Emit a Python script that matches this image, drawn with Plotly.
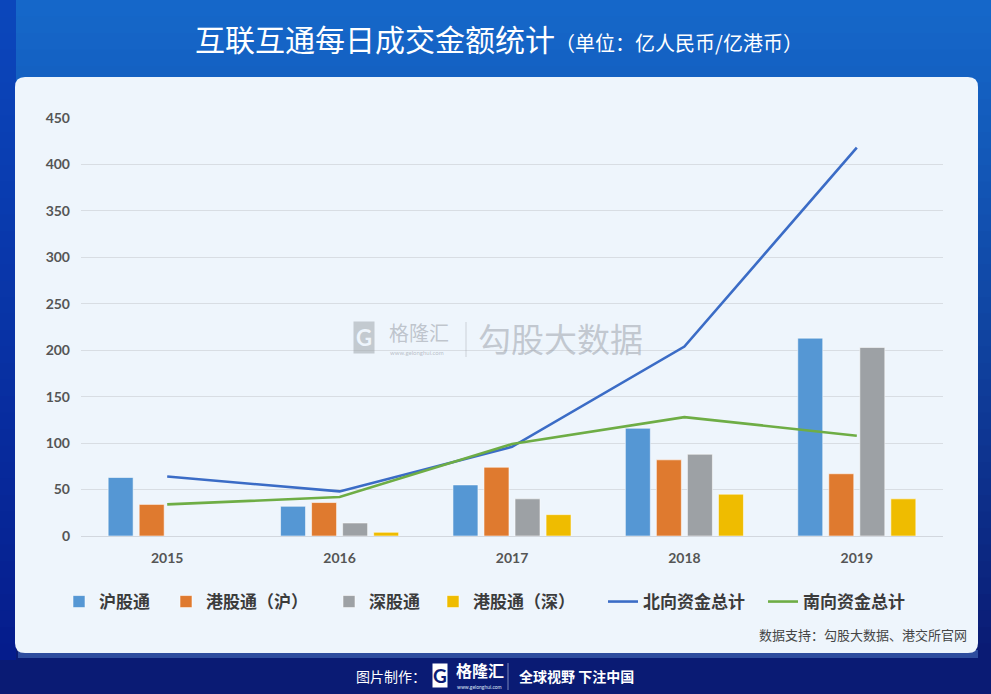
import plotly.graph_objects as go

# ---------------- data ----------------
years = ["2015", "2016", "2017", "2018", "2019"]
hu_gu_tong = [63, 32, 55, 116, 213]          # 沪股通
gang_gu_tong_hu = [34, 36, 74, 82, 67]       # 港股通（沪）
shen_gu_tong = [None, 14, 40, 88, 203]       # 深股通
gang_gu_tong_shen = [None, 4, 23, 45, 40]    # 港股通（深）
north_total = [64, 48, 96, 204, 418]         # 北向资金总计
south_total = [34, 42, 99, 128, 108]         # 南向资金总计
y_ticks = [0, 50, 100, 150, 200, 250, 300, 350, 400, 450]

# ---------------- geometry helpers ----------------
W, H = 991, 694
PL, PR, PT, PB = 81, 943, 118, 536


def fx(px):
    return (px - PL) / (PR - PL)


def fy(py):
    return (PB - py) / (PB - PT)


CJK = "Noto Sans CJK SC"
NUM = "Lato"

fig = go.Figure()

bar_specs = [
    ("沪股通", hu_gu_tong, "#5597D4", "legend"),
    ("港股通（沪）", gang_gu_tong_hu, "#DF7A2F", "legend2"),
    ("深股通", shen_gu_tong, "#9DA1A5", "legend3"),
    ("港股通（深）", gang_gu_tong_shen, "#EFBC00", "legend4"),
]
for name, vals, col, lg in bar_specs:
    fig.add_trace(go.Bar(
        x=years, y=vals, name=name, legend=lg,
        marker=dict(color=col, line=dict(color="rgba(255,255,255,0.55)", width=1)),
        hoverinfo="x+y+name",
    ))

fig.add_trace(go.Scatter(x=years, y=north_total, name="北向资金总计", mode="lines",
                         legend="legend5", line=dict(color="#3B6CC6", width=2.6)))
fig.add_trace(go.Scatter(x=years, y=south_total, name="南向资金总计", mode="lines",
                         legend="legend6", line=dict(color="#6EAD45", width=2.6)))

# ---------------- background shapes ----------------
shapes = []


def lerp(c1, c2, t):
    a = [int(c1[i:i + 2], 16) for i in (1, 3, 5)]
    b = [int(c2[i:i + 2], 16) for i in (1, 3, 5)]
    return "#" + "".join("%02x" % round(a[k] + (b[k] - a[k]) * t) for k in range(3))


n_bands = 40
top_y, bot_y = 0, 660
for i in range(n_bands):
    y0 = top_y + (bot_y - top_y) * i / n_bands
    y1 = top_y + (bot_y - top_y) * (i + 1) / n_bands + 1
    t = (i / (n_bands - 1)) ** 1.1
    col = lerp("#1567C9", "#0A1B74", t)
    shapes.append(dict(type="rect", xref="paper", yref="paper", layer="below",
                       x0=fx(0), x1=fx(W), y0=fy(y0), y1=fy(y1),
                       fillcolor=col, line=dict(width=0)))
shapes.append(dict(type="rect", xref="paper", yref="paper", layer="below",
                   x0=fx(0), x1=fx(16), y0=fy(0), y1=fy(660),
                   fillcolor="rgba(0,30,170,0.45)", line=dict(width=0)))
shapes.append(dict(type="rect", xref="paper", yref="paper", layer="below",
                   x0=fx(18), x1=fx(978), y0=fy(650), y1=fy(658),
                   fillcolor="rgba(90,140,210,0.45)", line=dict(width=0)))

cx0, cx1, cy0, cy1, r = 15, 978, 77, 653, 10
rx, ry = r / (PR - PL), r / (PB - PT)
X0, X1, Y0, Y1 = fx(cx0), fx(cx1), fy(cy1), fy(cy0)
path = (f"M{X0 + rx},{Y1} L{X1 - rx},{Y1} Q{X1},{Y1} {X1},{Y1 - ry} "
        f"L{X1},{Y0 + ry} Q{X1},{Y0} {X1 - rx},{Y0} L{X0 + rx},{Y0} "
        f"Q{X0},{Y0} {X0},{Y0 + ry} L{X0},{Y1 - ry} Q{X0},{Y1} {X0 + rx},{Y1} Z")
shapes.append(dict(type="path", xref="paper", yref="paper", layer="below",
                   path=path, fillcolor="#EEF5FC", line=dict(width=0)))

shapes.append(dict(type="line", xref="paper", yref="paper", layer="above",
                   x0=fx(466), x1=fx(466), y0=fy(322), y1=fy(357),
                   line=dict(color="rgba(160,165,175,0.45)", width=1)))
shapes.append(dict(type="line", xref="paper", yref="paper", layer="above",
                   x0=fx(508), x1=fx(508), y0=fy(663), y1=fy(690),
                   line=dict(color="rgba(200,210,235,0.6)", width=1)))

# ---------------- annotations ----------------
ann = []
ann.append(dict(x=fx(364), y=fy(337), xref="paper", yref="paper", text="<b>G</b>",
                showarrow=False, font=dict(family=NUM, size=22, color="#EEF5FC"),
                bgcolor="rgba(160,165,172,0.55)", borderpad=2, xanchor="center", yanchor="middle"))
ann.append(dict(x=fx(387), y=fy(332), xref="paper", yref="paper", text="格隆汇",
                showarrow=False, font=dict(family=CJK, size=20, color="rgba(150,155,165,0.55)"),
                xanchor="left", yanchor="middle"))
ann.append(dict(x=fx(388), y=fy(352), xref="paper", yref="paper", text="www.gelonghui.com",
                showarrow=False, font=dict(family=NUM, size=6, color="rgba(150,155,165,0.6)"),
                xanchor="left", yanchor="middle"))
ann.append(dict(x=fx(476), y=fy(338), xref="paper", yref="paper", text="勾股大数据",
                showarrow=False, font=dict(family=CJK, size=33, color="rgba(150,155,165,0.5)"),
                xanchor="left", yanchor="middle"))
ann.append(dict(x=fx(969), y=fy(634), xref="paper", yref="paper",
                text="数据支持：勾股大数据、港交所官网",
                showarrow=False, font=dict(family=CJK, size=13, color="#454545"),
                xanchor="right", yanchor="middle"))
ann.append(dict(x=fx(428), y=fy(676), xref="paper", yref="paper", text="图片制作：",
                showarrow=False, font=dict(family=CJK, size=14, color="#FFFFFF"),
                xanchor="right", yanchor="middle"))
ann.append(dict(x=fx(440), y=fy(675), xref="paper", yref="paper", text="<b>G</b>",
                showarrow=False, font=dict(family=NUM, size=19, color="#0B1C74"),
                bgcolor="#FFFFFF", borderpad=0, xanchor="center", yanchor="middle"))
ann.append(dict(x=fx(454), y=fy(670), xref="paper", yref="paper", text="<b>格隆汇</b>",
                showarrow=False, font=dict(family=CJK, size=16, color="#FFFFFF"),
                xanchor="left", yanchor="middle"))
ann.append(dict(x=fx(455), y=fy(687), xref="paper", yref="paper", text="www.gelonghui.com",
                showarrow=False, font=dict(family=NUM, size=5, color="#DDE4F5"),
                xanchor="left", yanchor="middle"))
ann.append(dict(x=fx(517), y=fy(676), xref="paper", yref="paper", text="<b>全球视野 下注中国</b>",
                showarrow=False, font=dict(family=CJK, size=14, color="#FFFFFF"),
                xanchor="left", yanchor="middle"))

legend_font = dict(family=CJK, size=17, color="#3C3C3C", weight="bold")
legend_origins = [59, 166, 329, 433, 603, 763]
legend_cfg = {}
for i, ox in enumerate(legend_origins):
    key = "legend" if i == 0 else f"legend{i + 1}"
    legend_cfg[key] = dict(orientation="h", x=fx(ox), xanchor="left", y=fy(602),
                           yanchor="middle", font=legend_font,
                           bgcolor="rgba(0,0,0,0)", borderwidth=0)

fig.update_layout(
    width=W, height=H, autosize=False,
    margin=dict(l=PL, r=W - PR, t=PT, b=H - PB, pad=0),
    paper_bgcolor="#0A1B74",
    plot_bgcolor="rgba(0,0,0,0)",
    font=dict(family=CJK, color="#404040"),
    title=dict(
        text="互联互通每日成交金额统计<span style='font-size:20px'>（单位：亿人民币/亿港币）</span>",
        x=499 / W, xref="container", xanchor="center",
        y=1 - 40 / H, yref="container", yanchor="middle",
        font=dict(family=CJK, size=30, color="#FFFFFF"),
    ),
    barmode="group", bargap=0.28, bargroupgap=0.195,
    showlegend=True,
    xaxis=dict(type="category", range=[-0.5, 4.5], showgrid=False, zeroline=False,
               showline=False, ticks="", ticklabelstandoff=12,
               tickfont=dict(family=NUM, size=14, color="#555555", weight="bold"),
               fixedrange=True),
    yaxis=dict(range=[0, 450], tickvals=y_ticks, showgrid=True, gridcolor="#D8DDE3",
               gridwidth=1, zeroline=True, zerolinecolor="#D2D7DE", zerolinewidth=1,
               showline=False, ticks="", ticklabelstandoff=10,
               tickfont=dict(family=NUM, size=14, color="#555555", weight="bold"),
               fixedrange=True),
    shapes=shapes,
    annotations=ann,
    **legend_cfg,
)

fig.write_html("out.html", config={"displayModeBar": False},
               post_script="document.body.style.margin='0';document.body.style.overflow='hidden';")
